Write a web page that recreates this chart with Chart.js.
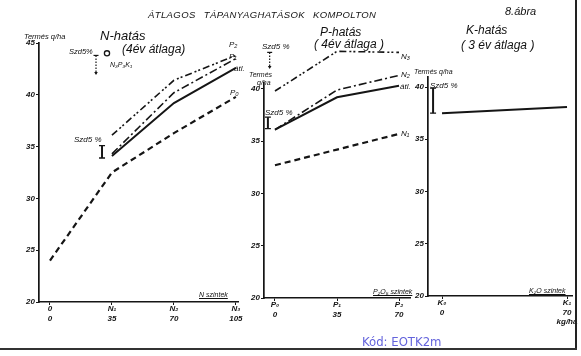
<!DOCTYPE html>
<html><head><meta charset="utf-8">
<script src="https://cdn.jsdelivr.net/npm/chart.js@4"></script>
<style>
html,body{margin:0;padding:0;background:#fff;}
#wrap{position:relative;width:581px;height:356px;overflow:hidden;background:#fff;font-family:"Liberation Sans",Arial,sans-serif;color:#111;}
canvas{position:absolute;left:0;top:0;}
.t{position:absolute;font-style:italic;white-space:nowrap;line-height:1;}
.u{text-decoration:underline;}
</style></head><body>
<div id="wrap">
<canvas id="c1" width="581" height="356"></canvas>
<canvas id="c2" width="581" height="356"></canvas>
<canvas id="c3" width="581" height="356"></canvas>

<div class="t" style="left:148px;top:10px;font-size:9.5px;letter-spacing:0.4px;word-spacing:5px;">ÁTLAGOS TÁPANYAGHATÁSOK KOMPOLTON</div>
<div class="t" style="left:505px;top:6px;font-size:11px;">8.ábra</div>

<div class="t" style="left:24px;top:33px;font-size:7.5px;">Termés q/ha</div>
<div class="t" style="left:100px;top:29px;font-size:13px;">N-hatás</div>
<div class="t" style="left:122px;top:43px;font-size:12px;">(4év átlaga)</div>
<div class="t" style="left:69px;top:48px;font-size:7.5px;">Szd5%</div>
<div class="t" style="left:110px;top:61px;font-size:7px;">N₃P₃K₁</div>
<div class="t" style="left:74px;top:136px;font-size:8px;">Szd5 %</div>
<div class="t" style="left:229px;top:41px;font-size:8px;">P₂</div>
<div class="t" style="left:229px;top:53px;font-size:8px;">P₁</div>
<div class="t" style="left:234px;top:65px;font-size:8px;">átl.</div>
<div class="t" style="left:230px;top:89px;font-size:8px;">P₀</div>
<div class="t u" style="left:199px;top:291px;font-size:7px;">N szintek</div>

<div class="t" style="left:320px;top:26px;font-size:12px;">P-hatás</div>
<div class="t" style="left:314px;top:38px;font-size:12px;">( 4év átlaga )</div>
<div class="t" style="left:262px;top:43px;font-size:8px;">Szd5 %</div>
<div class="t" style="left:249px;top:71px;font-size:7px;">Termés</div>
<div class="t" style="left:257px;top:79px;font-size:7px;">q/ha</div>
<div class="t" style="left:265px;top:109px;font-size:8px;">Szd5 %</div>
<div class="t" style="left:401px;top:53px;font-size:8px;">N₃</div>
<div class="t" style="left:401px;top:71px;font-size:8px;">N₂</div>
<div class="t" style="left:400px;top:83px;font-size:8px;">átl.</div>
<div class="t" style="left:401px;top:130px;font-size:8px;">N₁</div>
<div class="t u" style="left:373px;top:288px;font-size:7px;">P₂O₅ szintek</div>

<div class="t" style="left:466px;top:24px;font-size:12px;">K-hatás</div>
<div class="t" style="left:461px;top:39px;font-size:12px;">( 3 év átlaga )</div>
<div class="t" style="left:414px;top:68px;font-size:7px;">Termés q/ha</div>
<div class="t" style="left:430px;top:82px;font-size:8px;">Szd5 %</div>
<div class="t u" style="left:529px;top:287px;font-size:7px;">K₂O szintek</div>

<div style="position:absolute;left:362px;top:335px;font-size:13px;color:#6464dc;font-family:'Liberation Sans Narrow','DejaVu Sans Condensed',sans-serif;line-height:1;">Kód: EOTK2m</div>
<div style="position:absolute;left:575px;top:0;width:2px;height:350px;background:#222;"></div>
<div style="position:absolute;left:0;top:348px;width:577px;height:2px;background:#333;"></div>
</div>

<script>
// ---------- data ----------
const nX = [0, 35, 70, 105];
const nTickTop = ['0', 'N₁', 'N₂', 'N₃'];
const nTickBottom = ['0', '35', '70', '105'];
const nP2 = [null, 36.1, 41.4, 43.8];
const nP1 = [null, 34.3, 40.2, 43.5];
const nAtl = [null, 34.1, 39.2, 42.6];
const nP0 = [24.0, 32.5, 36.3, 39.8];
const nSzd = [29.4, 33.9, 35.1];
const nSzdTop = [26, 42.0, 43.8];
const nN3P3K1 = [32.2, 44.0];
const nYTicks = [20, 25, 30, 35, 40, 45];

const pX = [0, 35, 70];
const pTickTop = ['P₀', 'P₁', 'P₂'];
const pTickBottom = ['0', '35', '70'];
const pN3 = [39.8, 43.6, 43.5];
const pN2 = [36.1, 39.9, 41.3];
const pAtl = [36.1, 39.2, 40.3];
const pN1 = [32.7, 34.2, 35.7];
const pSzd = [-4, 36.2, 37.3];
const pSzdTop = [-3, 42.0, 43.5];
const pYTicks = [20, 25, 30, 35, 40];

const kX = [0, 70];
const kTickTop = ['K₀', 'K₁'];
const kTickBottom = ['0', '70'];
const kTickExtra = ['', 'kg/ha'];
const kAtl = [37.5, 38.1];
const kSzd = [-5, 37.5, 39.9];
const kYTicks = [20, 25, 30, 35, 40];

// ---------- helpers ----------
const INK = '#151515';
const tickFont = {family: "'Liberation Sans', Arial, sans-serif", size: 8, style: 'italic', weight: 'bold'};
function pts(xs, ys) { return xs.map((x, i) => ({x: x, y: ys[i]})).filter(p => p.y !== null); }
function ds(xs, ys, dash, w) {
  return {data: pts(xs, ys), borderColor: INK, borderWidth: w, borderDash: dash,
    pointRadius: 0, fill: false, tension: 0, clip: false};
}
const szdPlugin = {
  id: 'szd',
  afterDatasetsDraw(chart, args, opts) {
    const c = chart.ctx, xs = chart.scales.x, ys = chart.scales.y;
    (opts.bars || []).forEach(b => {
      const px = xs.getPixelForValue(b.v[0]);
      const y1 = ys.getPixelForValue(b.v[1]);
      const y2 = ys.getPixelForValue(b.v[2]);
      c.save();
      c.strokeStyle = INK; c.fillStyle = INK;
      if (b.dotted) {
        c.lineWidth = 1.2;
        c.beginPath(); c.moveTo(px - 2.5, y2); c.lineTo(px + 2.5, y2); c.stroke();
        c.setLineDash([1.5, 1.5]);
        c.beginPath(); c.moveTo(px, y2); c.lineTo(px, y1); c.stroke();
        c.setLineDash([]);
        c.beginPath(); c.moveTo(px - 1.8, y1 - 2); c.lineTo(px + 1.8, y1 - 2); c.lineTo(px, y1 + 1); c.closePath(); c.fill();
      } else {
        c.lineWidth = 2;
        c.beginPath(); c.moveTo(px, y1); c.lineTo(px, y2); c.stroke();
        c.lineWidth = 1.3;
        c.beginPath(); c.moveTo(px - 3, y1); c.lineTo(px + 3, y1); c.moveTo(px - 3, y2); c.lineTo(px + 3, y2); c.stroke();
      }
      c.restore();
    });
  }
};
function makeChart(id, datasets, cfg) {
  return new Chart(document.getElementById(id), {
    type: 'line',
    data: {datasets: datasets},
    plugins: [szdPlugin],
    options: {
      responsive: false, animation: false, events: [],
      layout: {autoPadding: false, padding: cfg.pad},
      plugins: {legend: {display: false}, tooltip: {enabled: false}, szd: {bars: cfg.bars}},
      scales: {
        x: {
          type: 'linear', min: cfg.xmin, max: cfg.xmax,
          afterFit(s) { s.height = 30; },
          afterBuildTicks(s) { s.ticks = cfg.xs.map(v => ({value: v})); },
          border: {display: true, color: INK, width: 1.5},
          grid: {drawOnChartArea: false, drawTicks: true, tickLength: 3, color: INK, lineWidth: 1},
          ticks: {font: tickFont, color: INK, padding: -1, maxRotation: 0, autoSkip: false,
            callback: v => { const i = cfg.xs.indexOf(v); return i < 0 ? '' : cfg.xlab(i); }}
        },
        y: {
          type: 'linear', min: 20, max: cfg.ymax,
          afterFit(s) { s.width = 30; },
          afterBuildTicks(s) { s.ticks = cfg.yticks.map(v => ({value: v})); },
          border: {display: true, color: INK, width: 1.7},
          grid: {drawOnChartArea: false, drawTicks: true, tickLength: 3, color: INK, lineWidth: 1},
          ticks: {font: tickFont, color: INK, padding: 1, autoSkip: false}
        }
      }
    }
  });
}

const DASH = [6, 4], DOTDASH = [8, 3, 2, 3], DOTDOTDASH = [7, 3, 2, 2, 2, 3];

const ring = {data: [{x: nN3P3K1[0], y: nN3P3K1[1]}], borderColor: INK, borderWidth: 1.3,
  pointRadius: 2.6, pointBackgroundColor: '#fff', showLine: false, clip: false};

makeChart('c1', [ds(nX, nP2, DOTDOTDASH, 1.6), ds(nX, nP1, DOTDASH, 1.6), ds(nX, nAtl, [], 2), ds(nX, nP0, DASH, 2.2), ring], {
  pad: {left: 9, right: 343, top: 43, bottom: 24},
  xmin: -6.2, xmax: 106.2, ymax: 45, xs: nX, yticks: nYTicks,
  xlab: i => [nTickTop[i], nTickBottom[i]],
  bars: [{v: nSzd}, {v: nSzdTop, dotted: true}]
});
makeChart('c2', [ds(pX, pN3, DOTDOTDASH, 1.6), ds(pX, pN2, DOTDASH, 1.6), ds(pX, pAtl, [], 2), ds(pX, pN1, DASH, 2.2)], {
  pad: {left: 234, right: 171, top: 83, bottom: 28},
  xmin: -6.2, xmax: 76.2, ymax: 40.57, xs: pX, yticks: pYTicks,
  xlab: i => [pTickTop[i], pTickBottom[i]],
  bars: [{v: pSzd}, {v: pSzdTop, dotted: true}]
});
makeChart('c3', [ds(kX, kAtl, [], 2)], {
  pad: {left: 398, right: 9, top: 77, bottom: 30},
  xmin: -7.84, xmax: 72.8, ymax: 40.96, xs: kX, yticks: kYTicks,
  xlab: i => kTickExtra[i] ? [kTickTop[i], kTickBottom[i], kTickExtra[i]] : [kTickTop[i], kTickBottom[i]],
  bars: [{v: kSzd}]
});
</script>
</body></html>
